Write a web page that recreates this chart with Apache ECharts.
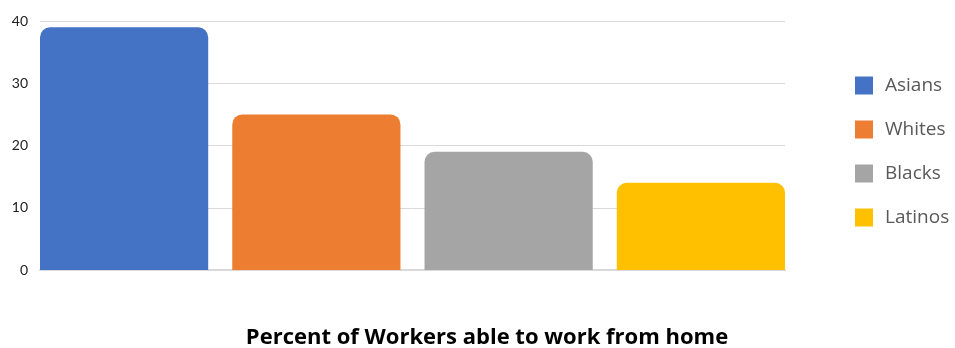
<!DOCTYPE html>
<html>
<head>
<meta charset="utf-8">
<script src="https://cdn.jsdelivr.net/npm/echarts@6/dist/echarts.min.js"></script>
<style>
  html, body { margin: 0; padding: 0; background: #fff; }
  #chart { width: 955px; height: 348px; }
</style>
</head>
<body>
<div id="chart"></div>
<script>
const groups = ['Asians', 'Whites', 'Blacks', 'Latinos']
const percents = [39, 25, 19, 14]
const yTicks = [0, 10, 20, 30, 40]
const colors = ['#4472C4', '#ED7D31', '#A5A5A5', '#FFC000']

const chart = echarts.init(document.getElementById('chart'))

const series = groups.map((name, i) => ({
  name,
  type: 'bar',
  data: [percents[i]],
  barGap: '14.3%',
  barCategoryGap: 0,
  itemStyle: {
    color: colors[i],
    borderRadius: [10, 10, 0, 0],
  },
}))

chart.setOption({
  animation: false,
  title: {
    text: 'Percent of Workers able to work from home',
    left: 482,
    textAlign: 'center',
    top: 322,
    textStyle: {
      fontFamily: 'Open Sans',
      fontWeight: 'bold',
      fontSize: 22,
      color: '#000',
    },
  },
  grid: {
    left: 40,
    right: 170,
    top: 21,
    bottom: 78,
  },
  legend: {
    orient: 'vertical',
    left: 850,
    top: 71,
    icon: 'rect',
    itemWidth: 18,
    itemHeight: 18,
    itemGap: 25,
    textStyle: {
      fontFamily: 'Open Sans',
      fontSize: 19,
      color: '#595959',
      padding: [0, 0, 0, 7],
    },
    data: groups,
  },
  xAxis: {
    type: 'category',
    data: [''],
    axisLine: { lineStyle: { color: '#d9d9d9', width: 2 } },
    axisTick: { show: false },
    axisLabel: { show: false },
  },
  yAxis: {
    type: 'value',
    min: yTicks[0],
    max: yTicks[yTicks.length - 1],
    interval: 10,
    axisLine: { show: false },
    axisTick: { show: false },
    axisLabel: {
      fontFamily: 'Lato',
      fontSize: 14,
      color: '#222',
      margin: 12,
    },
    splitLine: { lineStyle: { color: '#d9d9d9' } },
  },
  series,
})
</script>
</body>
</html>
